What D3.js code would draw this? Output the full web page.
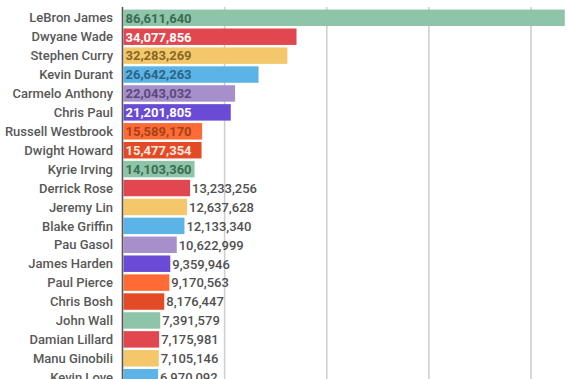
<!DOCTYPE html>
<html><head><meta charset="utf-8">
<script src="https://cdn.jsdelivr.net/npm/d3@7/dist/d3.min.js"></script>
<style>html,body{margin:0;padding:0;background:#fff;overflow:hidden}</style>
</head><body>
<svg id="c" width="567" height="379"></svg>
<script>
const players = ["LeBron James","Dwyane Wade","Stephen Curry","Kevin Durant","Carmelo Anthony","Chris Paul","Russell Westbrook","Dwight Howard","Kyrie Irving","Derrick Rose","Jeremy Lin","Blake Griffin","Pau Gasol","James Harden","Paul Pierce","Chris Bosh","John Wall","Damian Lillard","Manu Ginobili","Kevin Love"];
const values = [86611640,34077856,32283269,26642263,22043032,21201805,15589170,15477354,14103360,13233256,12637628,12133340,10622999,9359946,9170563,8176447,7391579,7175981,7105146,6970092];
const gridTicks = [0,20000000,40000000,60000000,80000000];
const palette = ["#8ec4a7","#e0474f","#f4c76b","#5bb3e6","#a68fcb","#6a4bd6","#ff6a35","#e34b26"];
const insideText = ["#3c6b54","#ffffff","#86682a","#2c6488","#5b4a7c","#ffffff","#a3421b","#fde8e0"];

const svg = d3.select("#c");
const x = d3.scaleLinear().domain([0, 80000000]).range([122.5, 531]);
const y = d3.scaleBand().domain(players).range([9, 9 + 20*18.85]).paddingInner(0.13).paddingOuter(0.03);
const fmt = d3.format(",");

// grid
svg.append("g").selectAll("line").data(gridTicks.slice(1)).join("line")
  .attr("x1", d=>x(d)).attr("x2", d=>x(d)).attr("y1", 7).attr("y2", 379)
  .attr("stroke", "#cfcfcf").attr("stroke-width", 1.6);

// bars
svg.append("g").selectAll("rect").data(values).join("rect")
  .attr("x", x(0)+1).attr("y", (d,i)=>y(players[i]))
  .attr("width", d=>x(d)-x(0)-1).attr("height", y.bandwidth())
  .attr("fill", (d,i)=>palette[i%8]);

// zero axis
svg.append("line").attr("x1", x(0)).attr("x2", x(0)).attr("y1", 7).attr("y2", 379)
  .attr("stroke", "#555").attr("stroke-width", 1.6);

// names
svg.append("g").selectAll("text").data(players).join("text")
  .attr("x", 113).attr("y", d=>y(d)+y.bandwidth()/2).attr("dy","0.36em")
  .attr("text-anchor","end").attr("font-family","Roboto, sans-serif")
  .attr("font-weight","500").attr("font-size","13px").attr("fill","#585858")
  .text(d=>d);

// values
svg.append("g").selectAll("text").data(values).join("text")
  .attr("x", (d,i)=> d>=14000000 ? x(0)+3 : x(d)+2)
  .attr("y", (d,i)=>y(players[i])+y.bandwidth()/2).attr("dy","0.37em")
  .attr("font-family","Roboto, sans-serif")
  .attr("font-weight", d=> d>=14000000 ? "700" : "500")
  .attr("font-size","13px")
  .attr("fill", (d,i)=> d>=14000000 ? insideText[i%8] : "#505050")
  .text(d=>fmt(d));
</script>
</body></html>
